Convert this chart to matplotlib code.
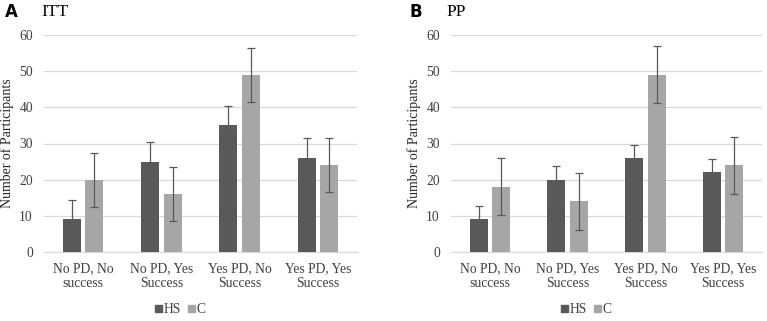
import numpy as np
import matplotlib.pyplot as plt
from matplotlib.patches import Patch

# data
categories = ["No PD, No\nsuccess", "No PD, Yes\nSuccess", "Yes PD, No\nSuccess", "Yes PD, Yes\nSuccess"]
itt_hs = [9, 25, 35, 26]
itt_c = [20, 16, 49, 24]
itt_hs_err = [5.5, 5.5, 5.5, 5.5]
itt_c_err = [7.5, 7.5, 7.5, 7.5]
pp_hs = [9, 20, 26, 22]
pp_c = [18, 14, 49, 24]
pp_hs_err = [3.7, 3.7, 3.7, 3.7]
pp_c_err = [7.9, 7.9, 7.9, 7.9]
yticks = [0, 10, 20, 30, 40, 50, 60]

plt.rcParams['font.family'] = ['Liberation Serif', 'DejaVu Serif']

HS_COL = "#595959"
C_COL = "#a6a6a6"
ERR_COL = "#595959"

fig = plt.figure(figsize=(7.67, 3.21), dpi=100)

def draw_panel(ax, hs, c, hs_err, c_err):
    x = np.arange(len(categories))
    w = 0.23
    ax.bar(x - 0.145, hs, w, color=HS_COL, zorder=3)
    ax.bar(x + 0.145, c, w, color=C_COL, zorder=3)
    ax.errorbar(x - 0.145, hs, yerr=hs_err, fmt="none", ecolor=ERR_COL,
                elinewidth=0.9, capsize=3, capthick=0.9, zorder=4)
    ax.errorbar(x + 0.145, c, yerr=c_err, fmt="none", ecolor=ERR_COL,
                elinewidth=0.9, capsize=3, capthick=0.9, zorder=4)
    ax.set_xlim(-0.5, len(categories) - 0.5)
    ax.set_ylim(0, 60)
    ax.set_yticks(yticks)
    ax.set_xticks(x)
    ax.set_xticklabels(categories, fontsize=9.8, color="#404040", linespacing=1.25)
    ax.tick_params(axis="y", labelsize=9.8, labelcolor="#404040", length=0, pad=8)
    ax.tick_params(axis="x", length=0, pad=7)
    ax.grid(axis="y", color="#d9d9d9", linewidth=0.9, zorder=0)
    for s in ["top", "right", "left"]:
        ax.spines[s].set_visible(False)
    ax.spines["bottom"].set_color("#d9d9d9")
    ax.set_ylabel("Number of Participants", fontsize=10, color="#262626", labelpad=4)
    handles = [Patch(color=HS_COL, label="HS"), Patch(color=C_COL, label="C")]
    ax.legend(handles=handles, loc="center", bbox_to_anchor=(0.435, -0.267),
              ncol=2, frameon=False, fontsize=9.8, handlelength=0.5, handleheight=0.5,
              handletextpad=0.15, columnspacing=0.5, labelcolor="#404040",
              borderpad=0, borderaxespad=0)

ax1 = fig.add_axes([44 / 767, 1 - 252 / 321, 313 / 767, 217 / 321])
draw_panel(ax1, itt_hs, itt_c, itt_hs_err, itt_c_err)
ax2 = fig.add_axes([451 / 767, 1 - 252 / 321, 311 / 767, 217 / 321])
draw_panel(ax2, pp_hs, pp_c, pp_hs_err, pp_c_err)

fig.text(5 / 767, 1 - 12 / 321, "A", fontsize=12, fontweight="bold",
         family="DejaVu Sans", va="center")
fig.text(41 / 767, 1 - 12 / 321, "ITT", fontsize=12.5, va="center")
fig.text(410 / 767, 1 - 12 / 321, "B", fontsize=12, fontweight="bold",
         family="DejaVu Sans", va="center")
fig.text(446 / 767, 1 - 12 / 321, "PP", fontsize=12.5, va="center")

fig.savefig("out.png", dpi=100)
